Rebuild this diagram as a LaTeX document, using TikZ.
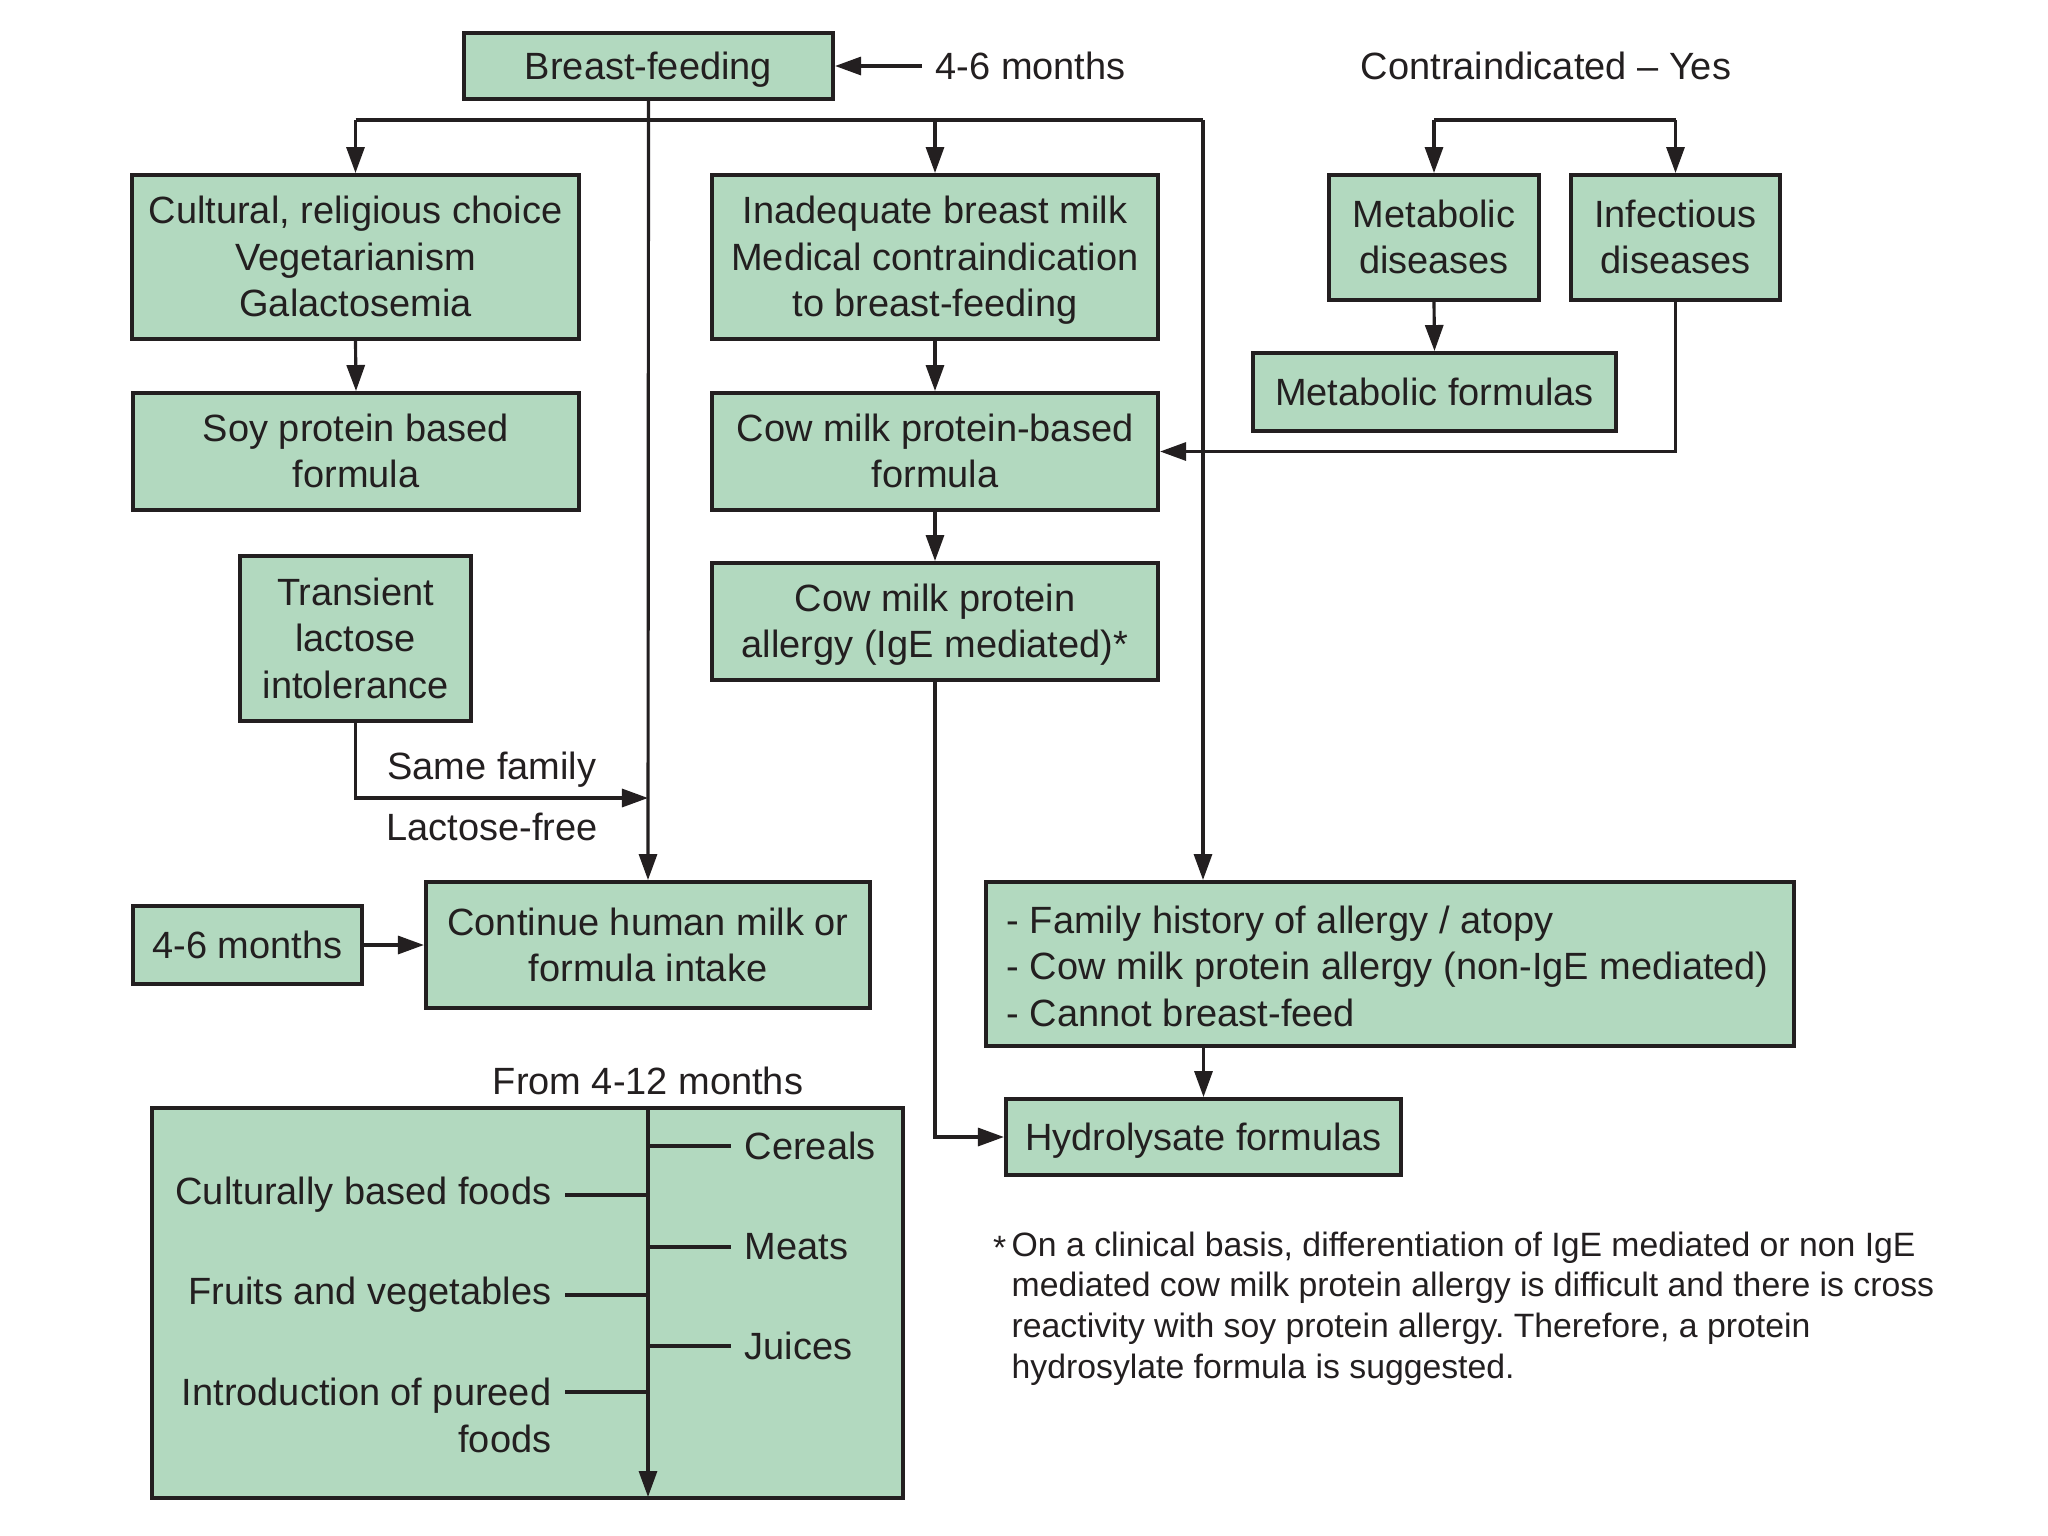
\documentclass[tikz,border=0pt]{standalone}
\usepackage{fontspec}
\setmainfont{Liberation Sans}
\usetikzlibrary{arrows.meta}
\definecolor{gr}{RGB}{178,217,191}
\definecolor{ln}{RGB}{35,31,32}
\frenchspacing
\begin{document}
\begin{tikzpicture}[x=0.01cm,y=-0.01cm,
  every node/.style={text=ln, font=\fontsize{10.8}{13.2}\selectfont},
  box/.style={draw=ln, fill=gr, line width=1.1pt, align=center, inner sep=0pt, text depth=0.3pt},
  conn/.style={draw=ln, line width=0.9pt},
  arr/.style={conn, -{Triangle[length=0.26cm,width=0.18cm]}},
  lbl/.style={inner sep=0pt},
  foot/.style={inner sep=0pt, font=\fontsize{9.6}{11.6}\selectfont, align=left}]
\useasboundingbox (0,0) rectangle (2048,1536);
\fill[white] (0,0) rectangle (2048,1536);

% boxes
\node[box, minimum width=3.69cm, minimum height=0.66cm] (bf) at (648.5,66) {Breast-feeding};
\node[box, minimum width=4.47cm, minimum height=1.64cm] (cult) at (355.5,257) {Cultural, religious choice\\Vegetarianism\\Galactosemia};
\node[box, minimum width=4.46cm, minimum height=1.17cm] (soy) at (356,451.5) {Soy protein based\\formula};
\node[box, minimum width=4.46cm, minimum height=1.64cm] (inad) at (935,257) {Inadequate breast milk\\Medical contraindication\\to breast-feeding};
\node[box, minimum width=4.46cm, minimum height=1.17cm] (cowf) at (935,451.5) {Cow milk protein-based\\formula};
\node[box, minimum width=4.46cm, minimum height=1.17cm] (cowa) at (935,621.5) {Cow milk protein\\allergy (IgE mediated)*};
\node[box, minimum width=2.31cm, minimum height=1.65cm] (tran) at (355.5,638.5) {Transient\\lactose\\intolerance};
\node[box, minimum width=2.10cm, minimum height=1.25cm] (met) at (1434,237.5) {Metabolic\\diseases};
\node[box, minimum width=2.09cm, minimum height=1.25cm] (inf) at (1675.5,237.5) {Infectious\\diseases};
\node[box, minimum width=3.63cm, minimum height=0.78cm] (metf) at (1434.5,392) {Metabolic formulas};
\node[box, minimum width=4.44cm, minimum height=1.26cm] (cont) at (648,945) {Continue human milk or\\formula intake};
\node[box, minimum width=2.29cm, minimum height=0.78cm] (mb) at (247.5,945) {4-6 months};
\node[box, minimum width=8.08cm, minimum height=1.64cm] (fam) at (1390,964) {};
\node[lbl, anchor=west, align=left] (famt) at (1006,966) {- Family history of allergy / atopy\\- Cow milk protein allergy (non-IgE mediated)\\- Cannot breast-feed};
\node[box, minimum width=3.95cm, minimum height=0.76cm] (hyd) at (1203.5,1137) {Hydrolysate formulas};
\node[box, minimum width=7.51cm, minimum height=3.90cm] (big) at (527.5,1303) {};

% labels
\node[lbl, anchor=west] (mt) at (935,66) {4-6 months};
\node[lbl] (contra) at (1546,66) {Contraindicated – Yes};
\node[lbl] (sf) at (492,770) {Same family};
\node[lbl] (lf) at (492,827) {Lactose-free};
\node[lbl] (from) at (648,1081) {From 4-12 months};

% coordinates
\coordinate (tl) at (355.5,120);
\coordinate (tr) at (1203,120);
\coordinate (cl) at (1434,120);
\coordinate (cr) at (1675.5,120);
\coordinate (tj) at (648,798);
\coordinate (vt) at (648,1108);
\coordinate (vb) at (648,1497);

% connectors
\draw[arr] ([xshift=-0.13cm]mt.west) -- (bf.east);
\draw[conn] (tl) -- (tr);
\draw[arr] (tl) -- (cult.north);
\draw[arr] (inad.north |- tl) -- (inad.north);
\draw[arr] (bf.south) -- (cont.north);
\draw[arr] (tr) -- (fam.north -| tr);
\draw[arr] (cult.south) -- (soy.north);
\draw[arr] (inad.south) -- (cowf.north);
\draw[arr] (cowf.south) -- (cowa.north);
\draw[arr] (cowa.south) |- (hyd.west);
\draw[arr] (hyd.north |- fam.south) -- (hyd.north);
\draw[conn] (cl) -- (cr);
\draw[arr] (cl) -- (met.north);
\draw[arr] (cr) -- (inf.north);
\draw[arr] (met.south) -- (metf.north);
\draw[arr] (inf.south) |- (cowf.east);
\draw[arr] (tran.south) |- (tj);
\draw[arr] (mb.east) -- (cont.west);

% feeding box content
\draw[arr] (vt) -- (vb);
\node[lbl, anchor=west] (cer) at (744,1146) {Cereals};
\node[lbl, anchor=west] (mea) at (744,1247) {Meats};
\node[lbl, anchor=west] (jui) at (744,1346) {Juices};
\node[lbl, anchor=east] (cbf) at (552,1195) {Culturally based foods};
\node[lbl, anchor=east] (frv) at (552,1295) {Fruits and vegetables};
\node[lbl, anchor=east, align=right] (pur) at (552,1415.5) {Introduction of pureed\\foods};
\coordinate (purt) at (552,1392);
\draw[conn] (cer.west -| vt) -- ([xshift=-0.13cm]cer.west);
\draw[conn] (mea.west -| vt) -- ([xshift=-0.13cm]mea.west);
\draw[conn] (jui.west -| vt) -- ([xshift=-0.13cm]jui.west);
\draw[conn] ([xshift=0.13cm]cbf.east) -- (cbf.east -| vt);
\draw[conn] ([xshift=0.13cm]frv.east) -- (frv.east -| vt);
\draw[conn] ([xshift=0.13cm]purt) -- (purt -| vt);

% footnote
\node[foot, anchor=north east] (ast) at (1007,1236) {*};
\node[foot, anchor=north west] (fn) at (1011,1231) {On a clinical basis, differentiation of IgE mediated or non IgE\\mediated cow milk protein allergy is difficult and there is cross\\reactivity with soy protein allergy. Therefore, a protein\\hydrosylate formula is suggested.};
\end{tikzpicture}
\end{document}
